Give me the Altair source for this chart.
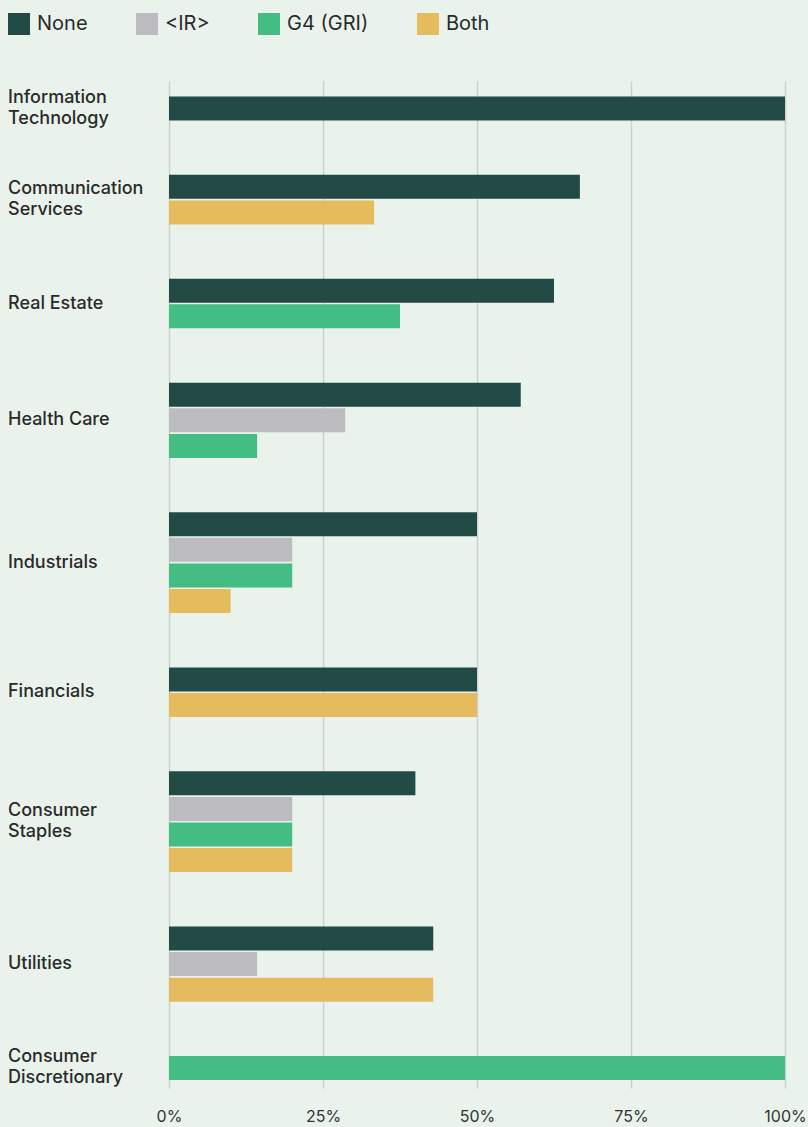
import altair as alt
import pandas as pd
import altair.utils.html as alt_html

categories = ["Information\nTechnology", "Communication\nServices", "Real Estate", "Health Care",
              "Industrials", "Financials", "Consumer\nStaples", "Utilities", "Consumer\nDiscretionary"]
series = ["None", "<IR>", "G4 (GRI)", "Both"]
none_vals = [100, 66.7, 62.5, 57.1, 50, 50, 40, 42.9, 0]
ir_vals = [0, 0, 0, 28.6, 20, 0, 20, 14.3, 0]
g4_vals = [0, 0, 37.5, 14.3, 20, 0, 20, 0, 100]
both_vals = [0, 33.3, 0, 0, 10, 50, 20, 42.9, 0]
colors = ["#234b45", "#bcbcc0", "#43bd84", "#e5bb5e"]
BG = "#e9f3eb"

GAP = 2.06  # extra slots between category groups
rows = []
labels = []
slot = 0.0
for i, cat in enumerate(categories):
    vals = [none_vals[i], ir_vals[i], g4_vals[i], both_vals[i]]
    ys = []
    for s, v in zip(series, vals):
        if v > 0:
            rows.append({"category": cat, "series": s, "value": v, "slot": slot})
            ys.append(slot)
            slot += 1
    labels.append({"category": cat, "slot": sum(ys) / len(ys), "multi": "\n" in cat})
    slot += GAP
bars_df = pd.DataFrame(rows)
labels_df = pd.DataFrame(labels)

UNIT = 25.6
H = 1007
lo = -27.5 / UNIT
hi = H / UNIT + lo
yscale = alt.Scale(domain=[lo, hi], reverse=True, nice=False, zero=False, padding=0)

bars = alt.Chart(bars_df).mark_bar(size=24, orient="horizontal").encode(
    x=alt.X("value:Q", scale=alt.Scale(domain=[0, 100], nice=False),
            axis=alt.Axis(values=[0, 25, 50, 75, 100], labelExpr="datum.value + '%'", title=None,
                          domain=False, ticks=False, grid=True, gridColor="#c9d2cd", gridWidth=1.5,
                          labelFlush=False, labelFontSize=16, labelColor="#333333", labelPadding=20,
                          labelFont="Inter")),
    y=alt.Y("slot:Q", scale=yscale, axis=None),
    color=alt.Color("series:N", scale=alt.Scale(domain=series, range=colors),
                    legend=alt.Legend(title=None, orient="none", legendX=-161, legendY=-68,
                                      direction="horizontal", symbolType="square", symbolSize=484,
                                      symbolStrokeWidth=0, labelFontSize=20, labelColor="#2a2a2a",
                                      labelFont="Inter", columnPadding=48, labelOffset=7)),
)

def label_layer(multi, dy):
    return alt.Chart(labels_df).transform_filter(
        alt.datum.multi == multi
    ).mark_text(align="left", baseline="middle", lineBreak="\n", dy=dy,
                fontSize=18, lineHeight=21, font="Inter", fontWeight=500, color="#2a2a2a").encode(
        x=alt.value(-161),
        y=alt.Y("slot:Q", scale=yscale, axis=None),
        text="category:N",
    )

chart = alt.layer(bars, label_layer(False, 0), label_layer(True, -10.5)).properties(
    width=616, height=H,
    autosize=alt.AutoSizeParams(type="none"),
    padding={"left": 161, "top": 73, "right": 23, "bottom": 38},
    background=BG,
).configure_view(stroke=None)


class BgTemplate:
    def render(self, **kw):
        html = alt_html.HTML_TEMPLATE.render(**kw)
        style = "<style>html,body{background:%s;overflow:hidden}body{margin:8px 0 0 8px}</style>" % BG
        return html.replace("<head>", "<head>" + style, 1)


try:
    chart.save("out.html", embed_options={"renderer": "svg", "actions": False}, template=BgTemplate())
except Exception:
    chart.save("out.html", embed_options={"renderer": "svg", "actions": False})
